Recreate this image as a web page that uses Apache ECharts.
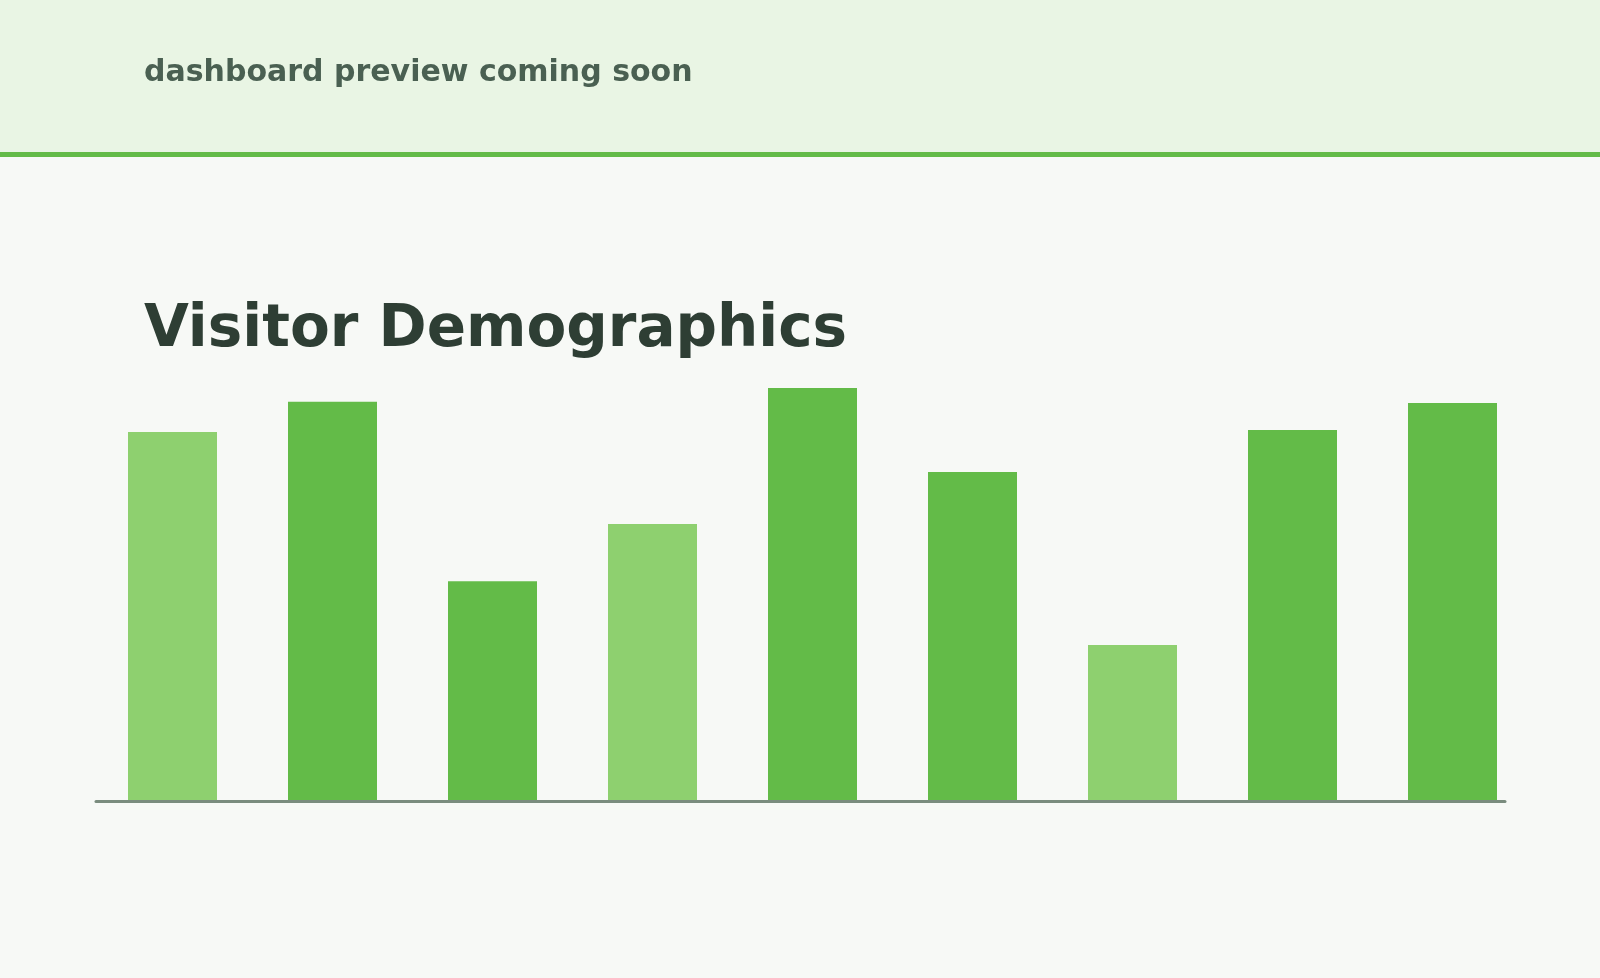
<!DOCTYPE html>
<html>
<head>
<meta charset="utf-8">
<style>
  html, body { margin: 0; padding: 0; background: #f7f9f6; }
  #chart { width: 1600px; height: 978px; }
</style>
<script src="https://cdn.jsdelivr.net/npm/echarts@6/dist/echarts.min.js"></script>
</head>
<body>
<div id="chart"></div>
<script>
// Data (no axis labels are shown in it)
const categories = ['Group 1', 'Group 2', 'Group 3', 'Group 4', 'Group 5', 'Group 6', 'Group 7', 'Group 8', 'Group 9'];
const visitorValues = [87.6, 94.8, 52.1, 65.7, 98.1, 78.1, 36.9, 88.1, 94.5];
const lightBars = [true, false, false, true, false, false, true, false, false];

const titleText = 'Visitor Demographics';
const subtitleText = 'dashboard preview coming soon';

const DARK = '#63bb48';
const LIGHT = '#8ed06f';

const chart = echarts.init(document.getElementById('chart'), null, { renderer: 'canvas' });

chart.setOption({
  backgroundColor: '#f7f9f6',
  animation: false,
  grid: [
    { left: 92.5, right: 67.5, top: 380, bottom: 178 },
    { left: 96, right: 95, top: 380, bottom: 176.5 }
  ],
  xAxis: [
    {
      type: 'category', data: categories, gridIndex: 0,
      axisLine: { show: false }, axisTick: { show: false }, axisLabel: { show: false }
    },
    {
      type: 'category', data: categories, gridIndex: 1,
      axisLine: { show: true, lineStyle: { color: '#7a8c7e', width: 3 } },
      axisTick: { show: false }, axisLabel: { show: false }
    }
  ],
  yAxis: [
    { type: 'value', min: 0, max: 100, gridIndex: 0, show: false, splitLine: { show: false } },
    { type: 'value', min: 0, max: 100, gridIndex: 1, show: false, splitLine: { show: false } }
  ],
  graphic: [
    { type: 'rect', left: 0, top: 0, z: -10, shape: { x: 0, y: 0, width: 1600, height: 152 }, style: { fill: '#e9f5e4' } },
    { type: 'rect', left: 0, top: 152, z: -10, shape: { x: 0, y: 0, width: 1600, height: 5 }, style: { fill: '#63bb48' } },
    {
      type: 'text', x: 144, y: 73,
      style: {
        text: subtitleText, fill: '#4a6052',
        font: 'bold 30px "DejaVu Sans"',
        verticalAlign: 'middle', textVerticalAlign: 'middle'
      }
    },
    {
      type: 'text', x: 144, y: 331,
      style: {
        text: titleText, fill: '#2e3e34',
        font: 'bold 58px "DejaVu Sans"',
        verticalAlign: 'middle', textVerticalAlign: 'middle'
      }
    }
  ],
  series: [
    {
      type: 'bar',
      xAxisIndex: 0, yAxisIndex: 0,
      barWidth: 89,
      data: visitorValues.map((v, i) => ({
        value: v,
        itemStyle: { color: lightBars[i] ? LIGHT : DARK }
      }))
    }
  ]
});
</script>
</body>
</html>
